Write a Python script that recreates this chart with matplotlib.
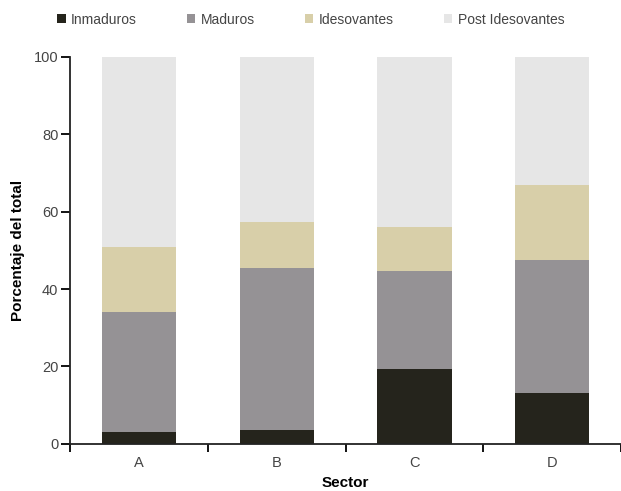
import matplotlib
matplotlib.use("Agg")
import matplotlib.pyplot as plt
import numpy as np

plt.rcParams["font.family"] = ["Liberation Sans", "DejaVu Sans"]

sectors = ["A", "B", "C", "D"]
series = ["Inmaduros", "Maduros", "Idesovantes", "Post Idesovantes"]
inmaduros = [3.0, 3.7, 19.3, 13.1]
maduros = [31.0, 41.8, 25.5, 34.3]
idesovantes = [16.8, 11.8, 11.2, 19.5]
post = [49.2, 42.7, 44.0, 33.1]
colors = ["#25241c", "#959295", "#d8cfa9", "#e6e6e6"]

fig = plt.figure(figsize=(6.21, 4.91), dpi=100)
ax = fig.add_axes([0.113, 0.096, 0.887, 0.788])

x = np.arange(len(sectors))
bottom = np.zeros(len(sectors))
for name, vals, col in zip(series, [inmaduros, maduros, idesovantes, post], colors):
    ax.bar(x, vals, width=0.54, bottom=bottom, color=col, label=name, zorder=2)
    bottom += np.array(vals)

ax.set_xlim(-0.5, 3.45)
ax.set_ylim(0, 100)
ax.set_yticks([0, 20, 40, 60, 80, 100])
ax.set_xticks(x)
ax.set_xticklabels(sectors)
ax.set_xticks(np.arange(-0.5, 3.6, 1.0), minor=True)
ax.tick_params(axis="x", which="major", length=0, pad=9, labelsize=10.5, colors="#444444")
ax.tick_params(axis="x", which="minor", length=6, width=1.3, direction="out")
ax.tick_params(axis="y", length=6.5, width=1.3, pad=2, labelsize=10.5, labelcolor="#444444")

for side in ("top", "right"):
    ax.spines[side].set_visible(False)
for side in ("left", "bottom"):
    ax.spines[side].set_linewidth(1.3)
    ax.spines[side].set_color("#222222")

ax.set_ylabel("Porcentaje del total", fontsize=11, fontweight="bold", labelpad=6)
ax.set_xlabel("Sector", fontsize=11, fontweight="bold", labelpad=4)

fig.legend(loc="upper left", bbox_to_anchor=(0.072, 1.0), ncol=4, frameon=False,
           handlelength=0.6, handleheight=0.6, handletextpad=0.4,
           columnspacing=3.6, fontsize=10, labelcolor="#444444")

fig.savefig("out.png", dpi=100, facecolor="white")
